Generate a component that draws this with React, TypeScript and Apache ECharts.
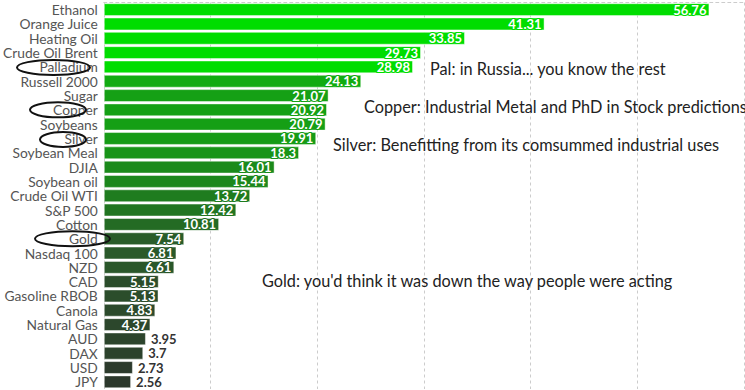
import React, { useEffect, useRef } from "react";
import * as echarts from "echarts";

const categories = [
  "Ethanol", "Orange Juice", "Heating Oil", "Crude Oil Brent", "Palladium", "Russell 2000",
  "Sugar", "Copper", "Soybeans", "Silver", "Soybean Meal", "DJIA", "Soybean oil",
  "Crude Oil WTI", "S&P 500", "Cotton", "Gold", "Nasdaq 100", "NZD", "CAD",
  "Gasoline RBOB", "Canola", "Natural Gas", "AUD", "DAX", "USD", "JPY",
];
const values = [
  56.76, 41.31, 33.85, 29.73, 28.98, 24.13, 21.07, 20.92, 20.79, 19.91, 18.3, 16.01, 15.44,
  13.72, 12.42, 10.81, 7.54, 6.81, 6.61, 5.15, 5.13, 4.83, 4.37, 3.95, 3.7, 2.73, 2.56,
];
const circled = ["Palladium", "Copper", "Silver", "Gold"];
const notes = [
  { cat: "Palladium", text: "Pal: in Russia... you know the rest" },
  { cat: "Copper", text: "Copper: Industrial Metal and PhD in Stock predictions" },
  { cat: "Silver", text: "Silver: Benefitting from its comsummed industrial uses" },
  { cat: "Gold", text: "Gold: you'd think it was down the way people were acting" },
];

const colorStops: [number, number[]][] = [
  [2.5, [0x2c, 0x38, 0x2c]],
  [4.5, [0x2c, 0x48, 0x2c]],
  [7, [0x2a, 0x5a, 0x2a]],
  [11, [0x24, 0x6c, 0x24]],
  [16, [0x1b, 0x8a, 0x1b]],
  [21, [0x15, 0xa0, 0x15]],
  [24.5, [0x10, 0xac, 0x10]],
  [28, [0x00, 0xdd, 0x00]],
];
function colorFor(v: number) {
  if (v <= colorStops[0][0]) return rgb(colorStops[0][1]);
  for (let i = 1; i < colorStops.length; i++) {
    const [v1, c1] = colorStops[i];
    const [v0, c0] = colorStops[i - 1];
    if (v <= v1) {
      const t = (v - v0) / (v1 - v0);
      return rgb(c0.map((c, k) => c + (c1[k] - c) * t));
    }
  }
  return rgb(colorStops[colorStops.length - 1][1]);
}
function rgb(c: number[]) {
  return `rgb(${c.map((x) => Math.round(x)).join(",")})`;
}

// ellipse extents per circled label (x range, vertical offset)
const ellipseX: Record<string, [number, number, number]> = {
  Palladium: [17, 90, 0.5],
  Copper: [30, 86, 0],
  Silver: [40, 86, 1],
  Gold: [35, 110, 0],
};
const noteX: Record<string, [number, number]> = {
  Palladium: [430, 2],
  Copper: [364, -3],
  Silver: [333, 6],
  Gold: [262, 42],
};

export default function App() {
  const ref = useRef<HTMLDivElement>(null);
  useEffect(() => {
    const chart = echarts.init(ref.current!, undefined, { renderer: "svg" });
    const font = "Lato, 'Noto Sans', sans-serif";
    chart.setOption({
      animation: false,
      grid: { left: 84, right: 1, top: 2.5, bottom: 1, containLabel: false },
      xAxis: {
        type: "value",
        position: "top",
        min: 0,
        max: 60,
        interval: 10,
        axisLine: { show: true, lineStyle: { color: "#ccc", type: [3, 3] } },
        axisTick: { show: false },
        axisLabel: { show: false },
        splitLine: { show: true, lineStyle: { color: "#ccc", type: [3, 3] } },
      },
      yAxis: {
        type: "category",
        inverse: true,
        data: categories,
        axisLine: { show: false },
        axisTick: { show: false },
        axisLabel: {
          color: "#555",
          fontSize: 13.8,
          lineHeight: 14,
          fontFamily: font,
          margin: 6,
          interval: 0,
        },
      },
      series: [
        {
          type: "bar",
          barCategoryGap: "10%",
          data: values.map((v) => ({
            value: v,
            itemStyle: { color: colorFor(v) },
            label:
              v < 4
                ? { position: "right", distance: 5, color: "#333", textBorderColor: "#fff", textBorderWidth: 2 }
                : { position: "insideRight", distance: 3, color: "#fff", textBorderColor: colorFor(v), textBorderWidth: 2 },
          })),
          itemStyle: { borderColor: "rgba(255,255,255,0.45)", borderWidth: 1 },
          label: {
            show: true,
            fontSize: 13,
            lineHeight: 14,
            fontWeight: "bold",
            fontFamily: font,
          },
        },
      ],
    });
    const graphics: any[] = [];
    circled.forEach((c) => {
      const y = chart.convertToPixel({ yAxisIndex: 0 }, c) as number;
      const [x0, x1, dy] = ellipseX[c];
      graphics.push({
        type: "ellipse",
        z: 100,
        shape: { cx: (x0 + x1) / 2, cy: y + dy, rx: (x1 - x0) / 2, ry: 7.5 },
        style: { fill: "none", stroke: "#111", lineWidth: 2 },
      });
    });
    notes.forEach((n) => {
      const y = chart.convertToPixel({ yAxisIndex: 0 }, n.cat) as number;
      const [x, dy] = noteX[n.cat];
      graphics.push({
        type: "text",
        z: 100,
        x,
        y: y + dy,
        style: {
          text: n.text,
          fill: "#222",
          fontSize: 16.3,
          fontFamily: font,
          verticalAlign: "middle",
        },
      });
    });
    chart.setOption({ graphic: graphics });
    return () => chart.dispose();
  }, []);
  return (
    <div
      ref={ref}
      style={{ position: "absolute", left: 0, top: 0, width: 745, height: 390 }}
    />
  );
}
